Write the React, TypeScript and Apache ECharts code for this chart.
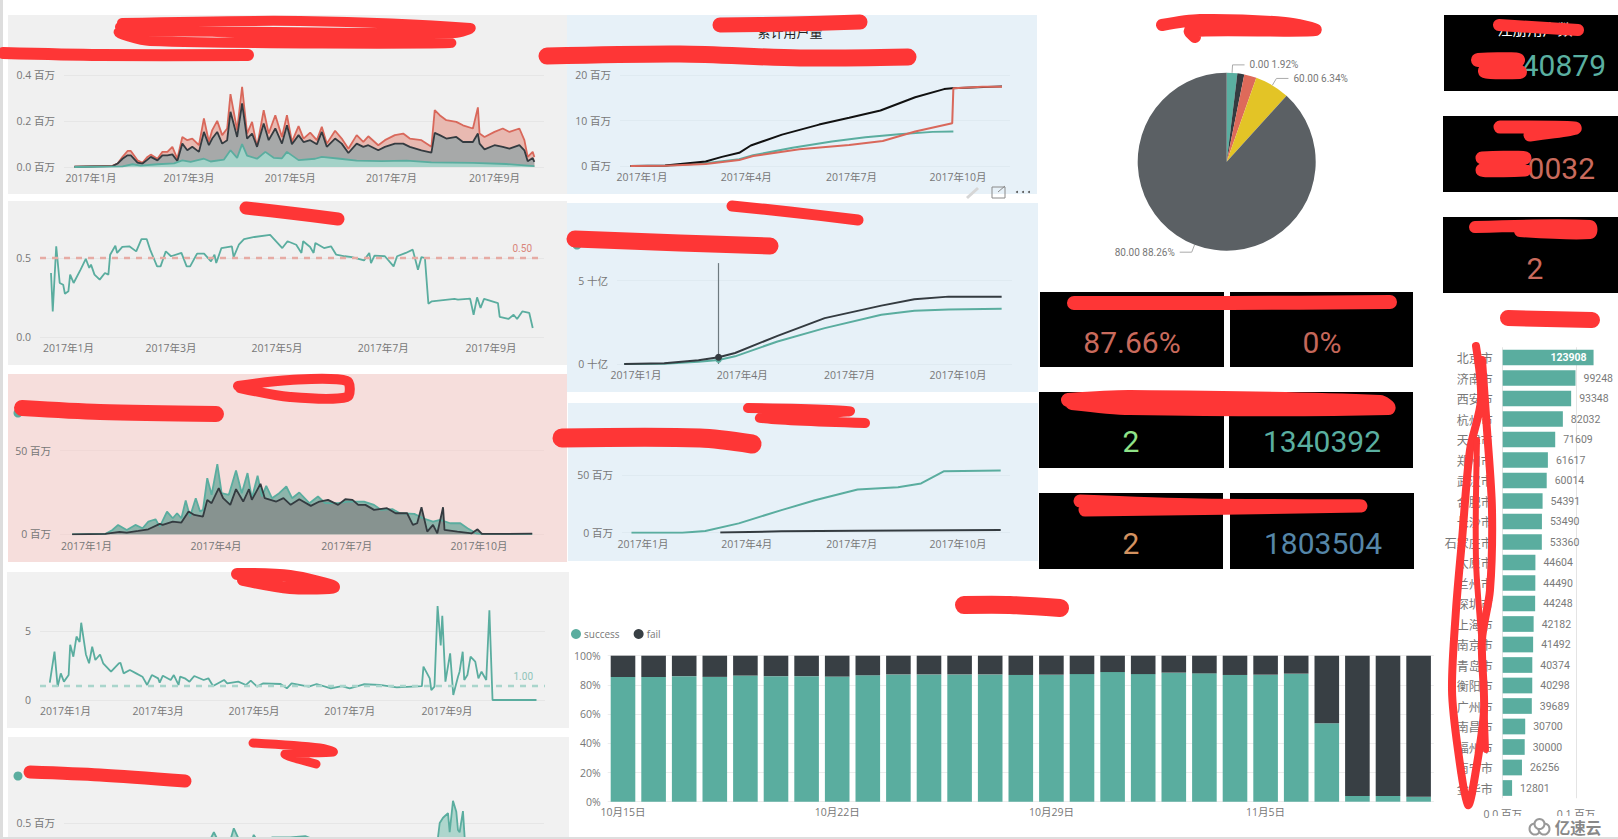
import React, { useEffect, useRef } from "react";
import * as echarts from "echarts";

// ---------- shared ticks ----------
const monthDays = [0, 59, 90, 120, 181, 243, 273];
const monthNames = ["2017年1月", "2017年3月", "2017年4月", "2017年5月", "2017年7月", "2017年9月", "2017年10月"];
const ticksOdd = [0, 59, 120, 181, 243];
const ticksQuarter = [0, 90, 181, 273];

// ---------- chart 1 (daily users) ----------
const usersDays = [-10,13,16,19,22,24,28,31,34,36,40,43,46,49,52,55,58,61,65,68,71,73,76,79,82,84,88,91,94,97,100,104,107,111,115,118,121,125,128,132,136,139,142,147,151,155,160,164,167,173,177,183,188,192,199,205,207,210,214,220,224,230,233,234,237,243,248,252,258,261,263,266,267];
const usersRed = [1,6,15,44,70,70,29,18,44,54,36,66,66,88,36,131,117,124,95,212,110,161,201,139,168,318,161,350,146,197,88,248,146,226,131,226,110,178,124,150,117,175,102,158,124,80,139,110,134,95,117,139,146,124,117,88,248,226,204,197,182,168,260,146,131,153,168,153,168,117,44,66,44];
const usersDark = [1,4,15,36,51,51,19,15,32,44,29,51,51,55,26,102,73,88,66,153,95,124,153,102,117,241,131,277,124,146,88,190,117,168,102,182,99,139,109,117,99,153,88,124,102,61,102,88,95,73,88,102,102,88,73,63,149,139,124,131,109,109,146,102,77,95,88,80,95,73,25,39,22];
const usersTeal = [[-10,0],[19,3],[25,12],[30,6],[40,12],[50,16],[55,29],[60,22],[68,36],[72,24],[80,32],[84,73],[88,40],[91,100],[94,50],[100,36],[105,66],[110,40],[115,38],[118,66],[125,30],[135,36],[139,44],[150,36],[160,28],[175,26],[190,28],[205,20],[230,18],[250,13],[267,4]];

// ---------- chart 2 (ratio) ----------
const ratioPoints = [[-10,.405],[-9,.162],[-7,.574],[-5,.342],[-3,.331],[-2,.274],[0,.289],[1,.395],[3,.342],[7,.426],[10,.494],[12,.437],[13,.458],[15,.395],[18,.363],[21,.405],[23,.395],[24,.521],[27,.578],[28,.532],[31,.57],[35,.574],[39,.542],[42,.62],[45,.62],[47,.553],[51,.447],[53,.447],[56,.542],[59,.511],[65,.532],[68,.447],[70,.447],[74,.528],[78,.528],[82,.479],[84,.521],[85,.468],[88,.563],[94,.574],[95,.506],[98,.584],[101,.62],[107,.633],[116,.646],[123,.563],[126,.606],[131,.584],[134,.532],[135,.606],[139,.57],[141,.532],[142,.595],[147,.563],[151,.574],[154,.521],[159,.511],[163,.506],[170,.485],[173,.532],[174,.468],[176,.515],[182,.511],[187,.447],[189,.511],[194,.532],[198,.553],[201,.426],[203,.506],[205,.5],[207,.211],[209,.226],[222,.241],[224,.236],[231,.243],[233,.141],[235,.251],[237,.184],[239,.241],[247,.215],[248,.127],[253,.114],[256,.141],[258,.114],[261,.162],[265,.152],[267,.057]];

// ---------- chart 3 (pink) ----------
const pinkTeal = [[-10,0],[13,.2],[18,2.6],[22,5.6],[28,2.6],[34,5.6],[39,3.6],[43,7.6],[48,9],[51,4.6],[56,13.6],[60,9.6],[63,12.6],[66,9.6],[69,20.2],[72,10.6],[76,21.6],[79,13.6],[81,14.6],[84,33.6],[87,23.6],[91,42],[94,24.6],[99,23.6],[104,38.2],[108,24.6],[112,36.6],[115,21.6],[119,35],[122,22.6],[125,29],[129,21.6],[134,24.6],[139,28.6],[143,21.6],[148,25],[155,18.6],[161,22.6],[166,18.6],[175,18.6],[182,19.6],[193,19.6],[200,17.6],[205,14.6],[213,15],[218,12.6],[228,12.2],[234,9.6],[241,7.6],[246,8.6],[253,6.6],[260,6.6],[265,3.6],[271,.6],[276,.2],[310,.2]];
const pinkDark = [[-10,0],[13,.2],[23,1.4],[28,1],[36,2],[43,3],[51,6.2],[53,5.6],[60,7.6],[66,7],[71,13.6],[75,11.6],[81,10.6],[84,20.6],[87,18.6],[92,27.6],[95,21.6],[100,17.6],[104,27],[109,19.6],[113,27],[115,20.6],[121,30.2],[124,21.6],[132,19.6],[137,21.6],[142,17.6],[148,21],[156,17],[162,19.6],[168,20.6],[175,17.6],[180,21],[185,20.6],[189,17.6],[194,17.6],[200,14.6],[209,15.6],[215,12.6],[223,12.6],[227,5.6],[230,6.6],[233,16.2],[237,1.6],[241,5.6],[244,.6],[248,16.2],[249,2.6],[258,1.6],[268,.6],[272,3],[275,.2],[310,.4]];

// ---------- chart 4 (multiple) ----------
const multiplePoints = [[-10,1.26],[-7,3.5],[-5,.97],[-3,1.93],[-1,1.33],[2,1.81],[3,4],[5,3.14],[7,4.6],[9,4.2],[10,5.6],[13,3.3],[15,2.66],[17,3.86],[19,2.9],[22,3.3],[24,2.66],[29,2.05],[34,2.66],[35,2.7],[37,1.93],[41,2.17],[45,1.93],[49,1.69],[52,1.09],[55,1.81],[59,1.57],[60,1.26],[62,1.76],[67,1.45],[69,1.81],[72,1.09],[73,1.69],[76,1.57],[79,1.33],[82,1.74],[88,1.45],[91,1.57],[94,1.01],[101,1.45],[103,1.21],[110,1.33],[115,1.09],[118,1.4],[122,.97],[126,1.21],[137,1.16],[141,.85],[144,1.21],[155,.97],[160,1.16],[169,.85],[176,1.01],[181,.85],[190,1.14],[200,1.09],[211,.92],[227,1.01],[228,2.42],[232,1.57],[233,.72],[235,.97],[237,6.8],[239,3.96],[240,6.1],[242,1.33],[245,3.38],[247,.36],[250,1.69],[251,2.05],[253,3.5],[254,1.45],[256,1.81],[258,3.14],[261,2.78],[263,1.57],[265,2.05],[268,1.45],[270,6.5],[272,0],[300,0]];

// ---------- chart 5 (cut off by the page) ----------
const bottomPoints = [[-10,0],[40,.1],[70,.33],[74,.43],[78,.33],[83,.33],[86,.46],[90,.35],[96,.33],[98,.41],[102,.33],[109,.39],[112,.39],[120,.39],[129,.4],[150,.3],[180,.25],[208,.3],[209,.395],[210,.5],[212,.54],[215,.575],[216,.43],[218,.668],[220,.585],[221,.447],[222,.43],[224,.59],[225,.395],[227,.3],[267,.1]];

// ---------- chart 6 (cumulative users) ----------
const cumDark = [[-10,0],[20,.1],[55,1],[69,2],[84,2.9],[94,4.5],[121,6.9],[153,9.1],[179,10.6],[206,12.2],[236,15.1],[261,16.9],[268,17.1],[311,17.5]];
const cumTeal = [[-10,0],[20,.05],[55,.6],[84,1.5],[96,2.35],[130,4],[164,5.4],[193,6.3],[222,7],[251,7.5],[269,7.6]];
const cumRed = [[-10,0],[20,.05],[55,.45],[84,1.3],[96,2.2],[136,3.7],[179,4.6],[208,5.5],[236,7.6],[268,9.4],[269,17.1],[294,17.4],[311,17.4]];

// ---------- chart 7 (cumulative amount, billions) ----------
const amountDark = [[-10,0],[24,.04],[53,.22],[70,.4],[84,.66],[120,1.69],[160,2.75],[208,3.5],[236,3.88],[265,4.04],[310,4.04]];
const amountTeal = [[-10,0],[24,.02],[53,.14],[70,.24],[84,.46],[120,1.35],[160,2.15],[208,2.95],[236,3.19],[265,3.27],[310,3.31]];

// ---------- chart 8 ----------
const holdTeal = [[-10,0],[34,0],[54,1.4],[83,8.1],[120,19.6],[149,28.2],[186,37.5],[221,39.5],[241,42.7],[261,53.3],[310,53.9]];
const holdDark = [[67,.1],[120,1.2],[186,1.7],[310,2.3]];

// ---------- success / fail bars ----------
const barDays = ["10月15日","10月16日","10月17日","10月18日","10月19日","10月20日","10月21日","10月22日","10月23日","10月24日","10月25日","10月26日","10月27日","10月28日","10月29日","10月30日","10月31日","11月1日","11月2日","11月3日","11月4日","11月5日","11月6日","11月7日","11月8日","11月9日","11月10日"];
const barTicks = ["10月15日", "10月22日", "10月29日", "11月5日"];
const successPct = [85.4,85.4,86,85.5,86.4,86,86,85.7,86.6,87.2,87.2,87.2,87.2,86.8,87,87.4,88.8,87.4,88.4,87.9,86.8,87,87.7,53.7,3.9,3.9,3.4];
const failPct = [14.6,14.6,14,14.5,13.6,14,14,14.3,13.4,12.8,12.8,12.8,12.8,13.2,13,12.6,11.2,12.6,11.6,12.1,13.2,13,12.3,46.3,96.1,96.1,96.6];

// ---------- pie ----------
const pieNames = ["0.00", "20.00", "40.00", "60.00", "80.00"];
const pieValues = [1.92, 1.25, 2.23, 6.34, 88.26];

// ---------- cities ----------
const cities = ["北京市","济南市","西安市","杭州市","天津市","郑州市","武汉市","合肥市","长沙市","石家庄市","太原市","兰州市","深圳市","上海市","南京市","青岛市","衡阳市","广州市","南昌市","福州市","南宁市","金华市"];
const cityValues = [123908,99248,93348,82032,71609,61617,60014,54391,53490,53360,44604,44490,44248,42182,41492,40374,40298,39689,30700,30000,26256,12801];

// ---------- styling ----------
const TEAL = "#5AAD9F";
const DARK = "#343B40";
const RED = "#D9685B";
const AXIS = "#777777";
const FONT = '"Open Sans","Noto Sans CJK SC",sans-serif';
const CJK = '"Noto Sans CJK SC",sans-serif';
const NUM = 'Roboto,sans-serif';
const AXIS_SIZE = 10.5;

const zip = (days: number[], vals: number[]) => days.map((d, i) => [d, vals[i]]);

type Chart = {
  left: number; right: number; top: number; height: number;
  x0: number; x1: number; d1: number; ticks: number[];
  max: number; interval: number; grid: string; fmt: (v: number) => string; cut?: boolean;
};

const charts: Chart[] = [
  { left: 64, right: 544, top: 75.3, height: 91.7, x0: 91, x1: 494.5, d1: 243, ticks: ticksOdd, max: 400, interval: 200, grid: "#E6E6E6", fmt: (v) => (v / 1000).toFixed(1) + " 百万" },
  { left: 40, right: 544, top: 226.4, height: 110.6, x0: 68.4, x1: 491, d1: 243, ticks: ticksOdd, max: 0.7, interval: 0.5, grid: "#E6E6E6", fmt: (v) => v.toFixed(1) },
  { left: 60, right: 544, top: 450.7, height: 83.6, x0: 86.5, x1: 479, d1: 273, ticks: ticksQuarter, max: 50, interval: 50, grid: "#F0D8D6", fmt: (v) => v + " 百万" },
  { left: 40, right: 545, top: 596.5, height: 103.5, x0: 65.5, x1: 447, d1: 243, ticks: ticksOdd, max: 7.5, interval: 5, grid: "#E6E6E6", fmt: (v) => String(v) },
  { left: 64, right: 544, top: 757, height: 132, x0: 91, x1: 494.5, d1: 243, ticks: ticksOdd, max: 1, interval: 0.5, grid: "#E6E6E6", fmt: (v) => v.toFixed(1) + " 百万", cut: true },
  { left: 620, right: 1010, top: 75, height: 91, x0: 642, x1: 958, d1: 273, ticks: ticksQuarter, max: 20, interval: 10, grid: "#DFEAF1", fmt: (v) => v + " 百万" },
  { left: 617, right: 1012, top: 255.6, height: 108.4, x0: 636, x1: 958, d1: 273, ticks: ticksQuarter, max: 6.5, interval: 5, grid: "#DFEAF1", fmt: (v) => v + " 十亿" },
  { left: 622, right: 1010, top: 463.5, height: 69.2, x0: 643, x1: 958, d1: 273, ticks: ticksQuarter, max: 60, interval: 50, grid: "#DFEAF1", fmt: (v) => v + " 百万" },
];

const panels = [
  [8, 15, 559, 179, "#F0F0F0"], [8, 201, 559, 164, "#F0F0F0"], [8, 374, 559, 188, "#F6DEDC"],
  [7, 572, 562, 156, "#F1F1F1"], [8, 737, 561, 100, "#F1F1F1"],
  [567, 15, 470, 179, "#E7F1F8"], [567, 203, 471, 189, "#E7F1F8"], [568, 403, 470, 158, "#E7F1F8"],
] as [number, number, number, number, string][];

const cards = [
  [1040, 292, 184, 75], [1230, 292, 183, 75], [1039, 392, 185, 76], [1229, 392, 184, 76],
  [1039, 493, 184, 76], [1230, 493, 184, 76], [1444, 15, 174, 76], [1443, 116, 175, 76], [1443, 217, 175, 76],
] as number[][];

const kpis = [
  ["87.66%", 1132, 342, "#C96A5C", "center"], ["0%", 1322, 342, "#C5675A", "center"],
  ["2", 1131, 441, "#8FE388", "center"], ["1340392", 1322, 441, "#5AAFA0", "center"],
  ["2", 1131, 543, "#D39260", "center"], ["1803504", 1323, 543, "#5586A8", "center"],
  ["40879", 1606, 65, "#5AAFA0", "right"], ["0032", 1595, 168, "#C96A5C", "right"], ["2", 1535, 268, "#C96A5C", "center"],
] as [string, number, number, string, string][];

const legendDots = [[18, 413], [18, 776], [577, 245]];

const scribbles: [number, number[][]][] = [
  [10, [[122, 23], [300, 21], [470, 28], [455, 33], [120, 32], [150, 41], [450, 43], [300, 36], [120, 27]]],
  [12, [[3, 53], [100, 55], [248, 55]]],
  [13, [[246, 208], [290, 213], [338, 219]]],
  [10, [[238, 386], [290, 380], [347, 381], [347, 397], [290, 397], [240, 388]]],
  [16, [[22, 408], [100, 412], [216, 414]]],
  [12, [[237, 574], [290, 576], [334, 587], [290, 588], [243, 580]]],
  [9, [[253, 743], [320, 748], [333, 752], [285, 754], [316, 764]]],
  [13, [[30, 772], [100, 775], [185, 781]]],
  [15, [[720, 25], [790, 24], [860, 22]]],
  [17, [[547, 56], [680, 54], [800, 58], [908, 57]]],
  [11, [[732, 206], [790, 212], [858, 220]]],
  [17, [[575, 239], [680, 243], [770, 246]]],
  [10, [[748, 408], [850, 411], [760, 418], [865, 423]]],
  [19, [[562, 438], [700, 438], [752, 444]]],
  [18, [[964, 605], [1010, 605], [1060, 608]]],
  [12, [[1162, 25], [1200, 20], [1285, 23], [1315, 30], [1190, 31], [1195, 37]]],
  [14, [[1074, 303], [1230, 303], [1390, 302]]],
  [14, [[1068, 400], [1130, 397], [1380, 402], [1388, 408], [1130, 408], [1072, 403]]],
  [13, [[1080, 501], [1200, 505], [1360, 506], [1085, 510]]],
  [12, [[1499, 25], [1578, 30]]],
  [14, [[1478, 60], [1518, 60], [1485, 71], [1520, 72]]],
  [13, [[1500, 127], [1575, 128], [1530, 135]]],
  [13, [[1482, 158], [1525, 158], [1482, 170], [1525, 170]]],
  [12, [[1475, 227], [1590, 226], [1590, 233], [1520, 231]]],
  [16, [[1508, 318], [1592, 320]]],
  [8, [[1476, 346], [1481, 400], [1470, 450], [1462, 540], [1456, 610], [1452, 690], [1458, 750], [1468, 805], [1476, 770], [1484, 710], [1482, 640], [1490, 590], [1492, 510], [1487, 430], [1482, 360]]],
  [6, [[1477, 440], [1476, 560], [1482, 650], [1486, 750]]],
];

function buildOption() {
  const grid: any[] = [];
  const xAxis: any[] = [];
  const yAxis: any[] = [];
  charts.forEach((c) => {
    const scale = (c.x1 - c.x0) / c.d1;
    grid.push({ left: c.left, width: c.right - c.left, top: c.top, height: c.height, containLabel: false });
    xAxis.push({
      type: "value", gridIndex: grid.length - 1,
      min: (c.left - c.x0) / scale, max: (c.right - c.x0) / scale,
      axisLine: { show: false }, axisTick: { show: false }, splitLine: { show: false },
      axisLabel: {
        show: !c.cut, customValues: c.ticks, color: AXIS, fontSize: AXIS_SIZE, fontFamily: FONT, margin: 6,
        formatter: (v: number) => monthNames[monthDays.indexOf(Math.round(v))] ?? "",
      },
    });
    yAxis.push({
      type: "value", gridIndex: grid.length - 1, min: 0, max: c.max, interval: c.interval,
      axisLine: { show: false }, axisTick: { show: false },
      splitLine: { show: true, showMaxLine: !c.cut && c.max % c.interval === 0, lineStyle: { color: c.grid, width: 1 } },
      axisLabel: {
        color: AXIS, fontSize: AXIS_SIZE, fontFamily: FONT, margin: 9,
        showMinLabel: !c.cut, showMaxLabel: !c.cut && c.max % c.interval === 0, formatter: c.fmt,
      },
    });
  });

  // bars
  grid.push({ left: 607.7, width: 826.2, top: 655.7, height: 146 });
  xAxis.push({
    type: "category", gridIndex: 8, data: barDays,
    axisLine: { show: false }, axisTick: { show: false },
    axisLabel: {
      color: AXIS, fontSize: AXIS_SIZE, fontFamily: FONT, margin: 5,
      interval: (i: number) => barTicks.includes(barDays[i]),
    },
  });
  yAxis.push({
    type: "value", gridIndex: 8, min: 0, max: 100, interval: 20,
    axisLine: { show: false }, axisTick: { show: false },
    splitLine: { lineStyle: { color: "#EDEDED" } },
    axisLabel: { color: AXIS, fontSize: AXIS_SIZE, fontFamily: FONT, margin: 7, formatter: "{value}%" },
  });

  // city bars
  grid.push({ left: 1502.7, width: 110, top: 347.25, height: 451 });
  xAxis.push({
    type: "value", gridIndex: 9, min: 0, max: 150000, interval: 100000,
    axisLine: { show: false }, axisTick: { show: false },
    splitLine: { show: true, showMaxLine: false, lineStyle: { color: "#E4E4E4" } },
    axisLabel: { color: AXIS, fontSize: AXIS_SIZE, fontFamily: FONT, margin: 10, showMaxLabel: false, formatter: (v: number) => (v / 1000000).toFixed(1) + " 百万" },
  });
  yAxis.push({
    type: "category", gridIndex: 9, data: cities, inverse: true,
    axisLine: { show: false }, axisTick: { show: false }, splitLine: { show: false },
    axisLabel: { color: AXIS, fontSize: 12, fontFamily: CJK, margin: 10, interval: 0 },
  });

  const line = (gi: number, name: string, data: any[], color: string, fill?: string, extra: any = {}, width = 1.8) => ({
    type: "line", name, xAxisIndex: gi, yAxisIndex: gi, data, showSymbol: false, symbol: "none",
    lineStyle: { color, width }, itemStyle: { color },
    ...(fill ? { areaStyle: { color: fill, opacity: 1 } } : {}), ...extra,
  });
  const refLine = (value: number, text: string, lineColor: string, textColor: string) => ({
    silent: true, symbol: "none", animation: false,
    data: [{ yAxis: value }],
    lineStyle: { color: lineColor, type: [6, 6], width: 2.4 },
    label: { show: true, formatter: text, position: "insideEndTop", distance: [12, 5], color: textColor, fontSize: 10, fontFamily: NUM },
  });

  const series: any[] = [
    line(0, "注册用户数", zip(usersDays, usersRed), RED, "#E8B9B1"),
    line(0, "活跃用户数", zip(usersDays, usersDark), DARK, "#A7A9A9"),
    line(0, "新增用户数", usersTeal, TEAL, "#A4D2C8"),
    line(1, "比率", ratioPoints, TEAL, undefined, { markLine: refLine(0.5, "0.50", "#E6ABA4", "#D9857A") }),
    line(2, "金额A", pinkTeal, TEAL, "#8DB5AB"),
    line(2, "金额B", pinkDark, DARK, "#879390"),
    line(3, "倍数", multiplePoints, TEAL, undefined, { markLine: refLine(1, "1.00", "#A9D5CC", "#8FC4B9") }),
    line(4, "金额C", bottomPoints, TEAL, "#AED6CD"),
    line(5, "累计A", cumTeal, TEAL, undefined, {}, 2),
    line(5, "累计B", cumDark, "#111111", undefined, {}, 2),
    line(5, "累计C", cumRed, RED, undefined, {}, 2),
    line(6, "累计金额A", amountTeal, TEAL, undefined, {
      markPoint: { silent: true, symbol: "circle", symbolSize: 6, itemStyle: { color: TEAL }, label: { show: false }, data: [{ coord: [70, 0.24] }] },
    }, 2),
    line(6, "累计金额B", amountDark, DARK, undefined, {
      markLine: {
        silent: true, symbol: "none", lineStyle: { color: "#6E7A80", type: "solid", width: 1.2 }, label: { show: false },
        data: [[{ coord: [70, 6.05] }, { coord: [70, 0] }]],
      },
      markPoint: { silent: true, symbol: "circle", symbolSize: 7, itemStyle: { color: DARK }, label: { show: false }, data: [{ coord: [70, 0.4] }] },
    }, 2),
    line(7, "持仓A", holdTeal, TEAL, undefined, {}, 2),
    line(7, "持仓B", holdDark, DARK, undefined, {}, 2),
    {
      type: "bar", name: "success", xAxisIndex: 8, yAxisIndex: 8, stack: "all", data: successPct,
      barWidth: 24.6, itemStyle: { color: "#5AAD9F" },
    },
    {
      type: "bar", name: "fail", xAxisIndex: 8, yAxisIndex: 8, stack: "all", data: failPct,
      barWidth: 24.6, itemStyle: { color: "#383F44" },
    },
    {
      type: "bar", name: "城市", xAxisIndex: 9, yAxisIndex: 9, barWidth: 15.7,
      itemStyle: { color: "#5AAD9F" },
      label: { show: true, position: "right", distance: 8, color: "#7A7A7A", fontSize: 10.5, fontFamily: NUM },
      data: cityValues.map((v, i) => i === 0
        ? { value: v, label: { position: "insideRight", distance: 7, color: "#fff", fontWeight: "bold" } }
        : v),
    },
    {
      type: "pie", name: "分布", center: [1226.7, 161.7], radius: [0, 89], startAngle: 90, clockwise: true,
      itemStyle: { borderWidth: 0 },
      label: { color: "#777", fontSize: 10, fontFamily: NUM, formatter: (p: any) => `${p.name} ${p.value.toFixed(2)}%` },
      labelLine: { length: 8, length2: 12, lineStyle: { color: "#aaa", width: 1 } },
      data: pieNames.map((name, i) => ({
        name, value: pieValues[i],
        itemStyle: { color: ["#5AAFA1", "#343B40", "#DE6A5A", "#E3C426", "#5B6064"][i] },
        ...(i === 1 || i === 2 ? { label: { show: false }, labelLine: { show: false } } : {}),
      })),
    },
  ];

  const txt = (text: string, x: number, y: number, fill: string, fontSize: number, fontFamily: string, align = "center", z = 5, fontWeight = "normal") => ({
    type: "text", z, silent: true,
    style: { text, x, y, fill, fontSize, fontFamily, fontWeight, align, textAlign: align, verticalAlign: "middle", textVerticalAlign: "middle" },
  });

  const elements: any[] = [
    { type: "rect", z: -2, silent: true, shape: { x: 0, y: 0, width: 3, height: 839 }, style: { fill: "#DDDDDD" } },
    ...panels.map(([x, y, width, height, fill]) => ({ type: "rect", z: -1, silent: true, shape: { x, y, width, height }, style: { fill } })),
    ...cards.map(([x, y, width, height]) => ({ type: "rect", z: -1, silent: true, shape: { x, y, width, height }, style: { fill: "#000" } })),
    ...kpis.map(([t, x, y, c, a]) => txt(t, x, y, c, 30, NUM, a)),
    txt("注册用户数", 1535, 28, "#fff", 15, CJK),
    txt("累计用户量", 790, 31, "#222", 13, CJK),
    ...legendDots.map(([cx, cy]) => ({ type: "circle", z: 5, silent: true, shape: { cx, cy, r: 4.5 }, style: { fill: TEAL } })),
    // page edge, clipped axis labels, watermark
    { type: "rect", z: 50, silent: true, shape: { x: 1490, y: 816, width: 128, height: 23 }, style: { fill: "#fff" } },
    { type: "rect", z: 60, silent: true, shape: { x: 0, y: 837, width: 1618, height: 63 }, style: { fill: "#DEDEDE" } },
    ...scribbles.map(([lineWidth, points]) => ({
      type: "polyline", z: 100, silent: true, shape: { points, smooth: 0.3 },
      style: { stroke: "#FE3636", lineWidth, lineCap: "round", lineJoin: "round", fill: null },
    })),
    // pin / focus / more icons
    { type: "line", z: 6, silent: true, shape: { x1: 967, y1: 198, x2: 978, y2: 188 }, style: { stroke: "#D6D6D6", lineWidth: 3 } },
    { type: "rect", z: 6, silent: true, shape: { x: 992, y: 187, width: 13, height: 11 }, style: { stroke: "#8A8A8A", fill: null, lineWidth: 1 } },
    { type: "line", z: 6, silent: true, shape: { x1: 998, y1: 192, x2: 1005, y2: 186 }, style: { stroke: "#8A8A8A", lineWidth: 1 } },
    ...[1017, 1023, 1029].map((cx) => ({ type: "circle", z: 6, silent: true, shape: { cx, cy: 192, r: 1 }, style: { fill: "#555" } })),
    { type: "circle", z: 70, silent: true, shape: { cx: 1535, cy: 829, r: 5.5 }, style: { stroke: "#999", fill: "#fff", lineWidth: 2 } },
    { type: "circle", z: 70, silent: true, shape: { cx: 1544, cy: 829, r: 5.5 }, style: { stroke: "#999", fill: "#fff", lineWidth: 2 } },
    { type: "circle", z: 71, silent: true, shape: { cx: 1539.5, cy: 824, r: 5 }, style: { stroke: "#999", fill: "#fff", lineWidth: 2 } },
    txt("亿速云", 1578, 827, "#888", 15.5, CJK, "center", 72, "bold"),
  ];

  return {
    animation: false,
    backgroundColor: "#fff",
    grid, xAxis, yAxis, series,
    legend: {
      data: ["success", "fail"], left: 571, top: 629, itemWidth: 10, itemHeight: 10, itemGap: 14, icon: "circle",
      padding: 0, selectedMode: false, textStyle: { color: "#777", fontSize: 10, fontFamily: FONT, padding: [0, 0, 0, -2] },
    },
    graphic: { elements },
  };
}

export default function App() {
  const ref = useRef<HTMLDivElement>(null);
  useEffect(() => {
    document.body.style.margin = "0";
    const chart = echarts.init(ref.current!, undefined, { renderer: "svg" });
    chart.setOption(buildOption() as any);
    return () => chart.dispose();
  }, []);
  // the chart is taller than the page so that the lowest panel runs off the bottom edge, as in the reference
  return (
    <div style={{ position: "absolute", left: 0, top: 0, width: 1618, height: 839, overflow: "hidden" }}>
      <div ref={ref} style={{ width: 1618, height: 900 }} />
    </div>
  );
}
